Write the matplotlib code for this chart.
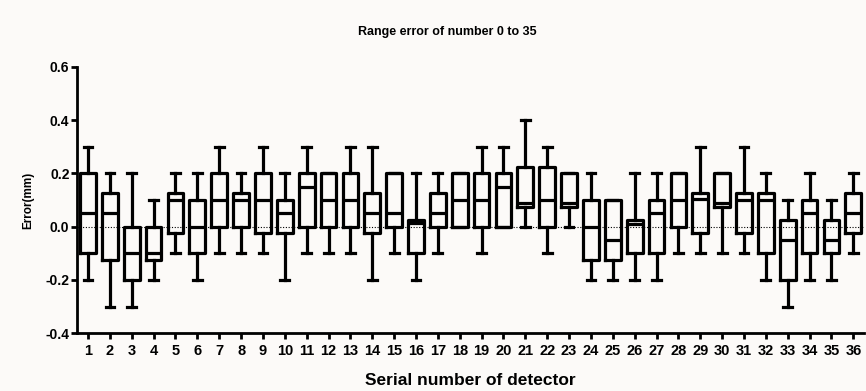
import matplotlib
matplotlib.use("Agg")
import matplotlib.pyplot as plt

# serial number of detector 1..36
detectors = list(range(1, 37))

# box statistics (mm)
whis_hi = [0.3, 0.2, 0.2, 0.1, 0.2, 0.2, 0.3, 0.2, 0.3, 0.2,
           0.3, 0.2, 0.3, 0.3, 0.2, 0.2, 0.2, 0.2, 0.3, 0.3,
           0.4, 0.3, 0.2, 0.2, 0.1, 0.2, 0.2, 0.2, 0.3, 0.2,
           0.3, 0.2, 0.1, 0.2, 0.1, 0.2]
q3 = [0.2, 0.125, 0.0, 0.0, 0.125, 0.1, 0.2, 0.125, 0.2, 0.1,
      0.2, 0.2, 0.2, 0.125, 0.2, 0.025, 0.125, 0.2, 0.2, 0.2,
      0.225, 0.225, 0.2, 0.1, 0.1, 0.025, 0.1, 0.2, 0.125, 0.2,
      0.125, 0.125, 0.025, 0.1, 0.025, 0.125]
median = [0.05, 0.05, -0.1, -0.1, 0.1, 0.0, 0.1, 0.1, 0.1, 0.05,
          0.15, 0.1, 0.1, 0.05, 0.05, 0.015, 0.05, 0.1, 0.1, 0.15,
          0.09, 0.1, 0.09, 0.0, -0.05, 0.01, 0.05, 0.1, 0.105, 0.09,
          0.1, 0.1, -0.05, 0.05, -0.05, 0.05]
q1 = [-0.1, -0.125, -0.2, -0.125, -0.025, -0.1, 0.0, 0.0, -0.025, -0.025,
      0.0, 0.0, 0.0, -0.025, 0.0, -0.1, 0.0, 0.0, 0.0, 0.0,
      0.075, 0.0, 0.075, -0.125, -0.125, -0.1, -0.1, 0.0, -0.025, 0.075,
      -0.025, -0.1, -0.2, -0.1, -0.1, -0.025]
whis_lo = [-0.2, -0.3, -0.3, -0.2, -0.1, -0.2, -0.1, -0.1, -0.1, -0.2,
           -0.1, -0.1, -0.1, -0.2, -0.1, -0.2, -0.1, 0.0, -0.1, 0.0,
           0.0, -0.1, 0.0, -0.2, -0.2, -0.2, -0.2, -0.1, -0.1, -0.1,
           -0.1, -0.2, -0.3, -0.2, -0.2, -0.1]

ytick_vals = [-0.4, -0.2, 0.0, 0.2, 0.4, 0.6]
ytick_labels = ["-0.4", "-0.2", "0.0", "0.2", "0.4", "0.6"]

bg = "#fcfaf8"
narrow = ["Liberation Sans Narrow", "Liberation Sans", "DejaVu Sans"]
wide = ["Liberation Sans", "DejaVu Sans"]
plt.rcParams["font.family"] = narrow
plt.rcParams["font.weight"] = "bold"

fig = plt.figure(figsize=(8.66, 3.91), dpi=100, facecolor=bg)
ax = fig.add_axes([0.089, 0.148, 0.909, 0.681], facecolor=bg)

stats = []
for i in range(len(detectors)):
    stats.append({"whislo": whis_lo[i], "q1": q1[i], "med": median[i],
                  "q3": q3[i], "whishi": whis_hi[i], "fliers": []})

lw = 2.3
ax.bxp(stats, positions=detectors, widths=0.72, showfliers=False,
       boxprops=dict(color="black", linewidth=lw),
       medianprops=dict(color="black", linewidth=lw),
       whiskerprops=dict(color="black", linewidth=lw),
       capprops=dict(color="black", linewidth=lw),
       capwidths=0.4)

ax.axhline(0, color="black", linestyle=(0, (1, 1.5)), linewidth=0.8, zorder=0)

ax.set_xlim(0.5, 36.5)
ax.set_ylim(-0.4, 0.6)
ax.set_yticks(ytick_vals)
ax.set_yticklabels(ytick_labels, fontsize=10, fontweight="bold", family=wide)
ax.set_xticks(detectors)
ax.set_xticklabels([str(d) for d in detectors], fontsize=10.5, fontweight="bold")

for s in ["top", "right"]:
    ax.spines[s].set_visible(False)
for s in ["left", "bottom"]:
    ax.spines[s].set_linewidth(2)

ax.tick_params(axis="both", direction="out", width=2, length=4.5, colors="black")
ax.tick_params(axis="x", pad=3)
ax.tick_params(axis="y", pad=1)

ax.set_xlabel("Serial number of detector", fontsize=12.5, fontweight="bold",
              family=wide, labelpad=11)
ax.set_ylabel("Error(mm)", fontsize=8.5, fontweight="bold",
              family=wide, labelpad=8)

fig.text(0.517, 0.918, "Range error of number 0 to 35", ha="center", va="center",
         fontsize=9, fontweight="bold", family=wide)

fig.savefig("out.png", dpi=100, facecolor=bg)
